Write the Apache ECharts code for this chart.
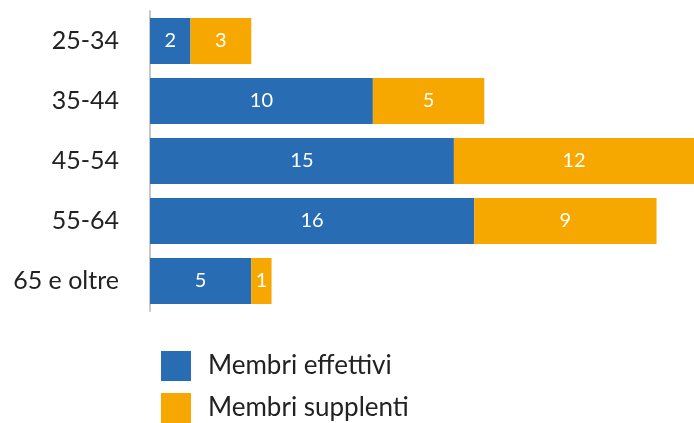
<!DOCTYPE html>
<html lang="it">
<head>
    <meta charset="UTF-8">
    <title>Membri per età</title>
    <script src="https://cdn.jsdelivr.net/npm/echarts@6/dist/echarts.min.js"></script>
</head>
<style>
    *{
        margin: 0;
        padding: 0;
    }
    html,body{
        width: 100%;
        height: 100%;
        overflow: hidden;
        background: #fff;
    }
    .container{
        width: 694px;
        height: 423px;
    }
</style>
<body>
<div class="container"></div>
<script>
    // categorie (dall'alto in basso)
    let categories = ['25-34', '35-44', '45-54', '55-64', '65 e oltre'];
    let seriesNames = ['Membri effettivi', 'Membri supplenti'];
    // lunghezze delle barre
    let effettivi = [2, 11, 15, 16, 5];
    let supplenti = [3, 5.5, 12, 9, 1];
    // numeri scritti sulle barre
    let effettiviLabels = [2, 10, 15, 16, 5];
    let supplentiLabels = [3, 5, 12, 9, 1];

    let colors = ['#286db4', '#f6a800'];

    let container = document.querySelector('.container');
    let mycharts = echarts.init(container);

    function makeSeries(name, values, labels, color) {
        return {
            name: name,
            type: 'bar',
            stack: 'tot',
            barCategoryGap: '23%',
            data: values,
            itemStyle: { color: color },
            label: {
                show: true,
                position: 'inside',
                color: '#fff',
                fontFamily: 'Lato',
                fontSize: 20,
                formatter: function (p) {
                    return labels[p.dataIndex];
                }
            }
        };
    }

    let options = {
        animation: false,
        backgroundColor: '#fff',
        grid: {
            left: 150,
            top: 11,
            width: 544,
            height: 300,
            containLabel: false
        },
        legend: {
            data: seriesNames,
            orient: 'vertical',
            left: 161,
            top: 351,
            padding: 0,
            itemWidth: 30,
            itemHeight: 30,
            itemGap: 12,
            icon: 'rect',
            textStyle: {
                fontFamily: 'Lato',
                fontSize: 26,
                color: '#222',
                padding: [0, 0, 0, 12]
            }
        },
        xAxis: {
            type: 'value',
            min: 0,
            max: 26.85,
            show: false
        },
        yAxis: {
            type: 'category',
            inverse: true,
            data: categories,
            axisLine: {
                show: true,
                lineStyle: { color: '#c8c8c8', width: 2 }
            },
            axisTick: { show: false },
            axisLabel: {
                margin: 31,
                fontFamily: 'Lato',
                fontSize: 25,
                color: '#222'
            }
        },
        series: [
            makeSeries(seriesNames[0], effettivi, effettiviLabels, colors[0]),
            makeSeries(seriesNames[1], supplenti, supplentiLabels, colors[1])
        ]
    };
    mycharts.setOption(options);
</script>
</body>
</html>
